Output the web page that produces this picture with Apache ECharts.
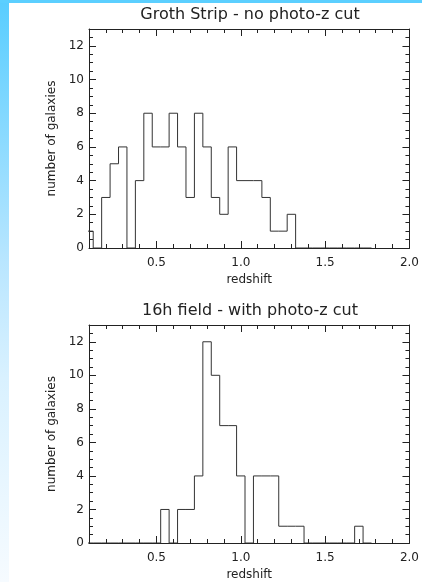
<!DOCTYPE html>
<html><head><meta charset="utf-8">
<script src="https://cdn.jsdelivr.net/npm/echarts@6/dist/echarts.min.js"></script>
<style>html,body{margin:0;padding:0;background:#fff}#c{width:422px;height:582px}</style>
</head><body><div id="c"></div>
<script>
// ---- data ----
const binWidth = 0.05;
const binCenters = [0.10,0.15,0.20,0.25,0.30,0.35,0.40,0.45,0.50,0.55,0.60,0.65,0.70,0.75,0.80,0.85,0.90,0.95,1.00,1.05,1.10,1.15,1.20,1.25,1.30,1.35,1.40,1.45,1.50,1.55,1.60,1.65,1.70,1.75];
const grothCounts = [1,0,3,5,6,0,4,8,6,6,8,6,3,8,6,3,2,6,4,4,4,3,1,1,2,0,0,0,0,0,0,0,0,0];
const field16hCounts = [0,0,0,0,0,0,0,0,0,2,0,2,2,4,12,10,7,7,4,0,4,4,4,1,1,1,0,0,0,0,0,0,1,0];
const titles = ['Groth Strip - no photo-z cut', '16h field - with photo-z cut'];
const xName = 'redshift';
const yName = 'number of galaxies';
const xMajorTicks = [0.5, 1.0, 1.5, 2.0];
const xMinorTicks = [0.2,0.3,0.4,0.6,0.7,0.8,0.9,1.1,1.2,1.3,1.4,1.6,1.7,1.8,1.9];
const yMajorTicks = [0, 2, 4, 6, 8, 10, 12];
const yMinorTicks = [0.5,1,1.5,2.5,3,3.5,4.5,5,5.5,6.5,7,7.5,8.5,9,9.5,10.5,11,11.5,12.5];

// ---- chart ----
const FONT = 'DejaVu Sans';
const INK = '#222';
const grids = [
  {left: 89, top: 29, width: 323, height: 219},
  {left: 89, top: 325, width: 323, height: 220}
];

function stepData(counts) {
  const pts = [];
  binCenters.forEach((c, i) => {
    pts.push([+(c - binWidth / 2).toFixed(4), counts[i]]);
    pts.push([+(c + binWidth / 2).toFixed(4), counts[i]]);
  });
  return pts;
}

function baseAxis(gi, pos, ticks, len, showLine) {
  return {
    gridIndex: gi, type: 'value', position: pos,
    axisLine: {show: showLine, onZero: false, lineStyle: {color: INK, width: 1}},
    axisTick: {show: true, inside: true, length: len, customValues: ticks, lineStyle: {color: INK, width: 1}},
    axisLabel: {show: false},
    splitLine: {show: false}
  };
}

const xAxis = [], yAxis = [];
grids.forEach((g, gi) => {
  const xb = baseAxis(gi, 'bottom', xMajorTicks, 7, true);
  xb.axisLabel = {show: true, customValues: xMajorTicks, formatter: v => v.toFixed(1), margin: 9,
    color: INK, fontSize: 12, fontFamily: FONT};
  xb.name = xName; xb.nameLocation = 'middle'; xb.nameGap = 26;
  xb.nameTextStyle = {color: INK, fontSize: 12, fontFamily: FONT};
  [xb, baseAxis(gi, 'bottom', xMinorTicks, 4, false),
   baseAxis(gi, 'top', xMajorTicks, 7, true), baseAxis(gi, 'top', xMinorTicks, 4, false)]
    .forEach(a => { a.min = 0.1; a.max = 2.0; xAxis.push(a); });

  const yl = baseAxis(gi, 'left', yMajorTicks, 7, true);
  yl.axisLabel = {show: true, customValues: yMajorTicks, margin: 5, color: INK, fontSize: 12, fontFamily: FONT};
  yl.name = yName; yl.nameLocation = 'middle'; yl.nameGap = 31;
  yl.nameTextStyle = {color: INK, fontSize: 12, fontFamily: FONT};
  [yl, baseAxis(gi, 'left', yMinorTicks, 4, false),
   baseAxis(gi, 'right', yMajorTicks, 7, true), baseAxis(gi, 'right', yMinorTicks, 4, false)]
    .forEach(a => { a.min = 0; a.max = 13; yAxis.push(a); });
});

const option = {
  animation: false,
  backgroundColor: '#ffffff',
  graphic: [
    {type: 'rect', left: 0, top: 0, z: -10, shape: {x: 0, y: 0, width: 9, height: 582},
     style: {fill: new echarts.graphic.LinearGradient(0, 0, 0, 1, [
       {offset: 0, color: '#58cdff'}, {offset: 0.45, color: '#b9e6ff'},
       {offset: 0.65, color: '#d9f1ff'}, {offset: 1, color: '#f6fbff'}])}},
    {type: 'rect', left: 0, top: 0, z: -10, shape: {x: 0, y: 0, width: 422, height: 3},
     style: {fill: '#5bcfff'}}
  ],
  title: [
    {text: titles[0], left: 250, top: 7, textAlign: 'center', padding: 0,
     textStyle: {fontSize: 16, fontWeight: 'normal', fontFamily: FONT, color: INK}},
    {text: titles[1], left: 250, top: 303, textAlign: 'center', padding: 0,
     textStyle: {fontSize: 16, fontWeight: 'normal', fontFamily: FONT, color: INK}}
  ],
  grid: grids,
  xAxis: xAxis,
  yAxis: yAxis,
  series: [
    {type: 'line', xAxisIndex: 0, yAxisIndex: 0, data: stepData(grothCounts), symbol: 'none',
     lineStyle: {color: '#333', width: 1}, clip: true},
    {type: 'line', xAxisIndex: 4, yAxisIndex: 4, data: stepData(field16hCounts), symbol: 'none',
     lineStyle: {color: '#333', width: 1}, clip: true}
  ]
};
const chart = echarts.init(document.getElementById('c'), null, {renderer: 'canvas'});
chart.setOption(option);
</script></body></html>
